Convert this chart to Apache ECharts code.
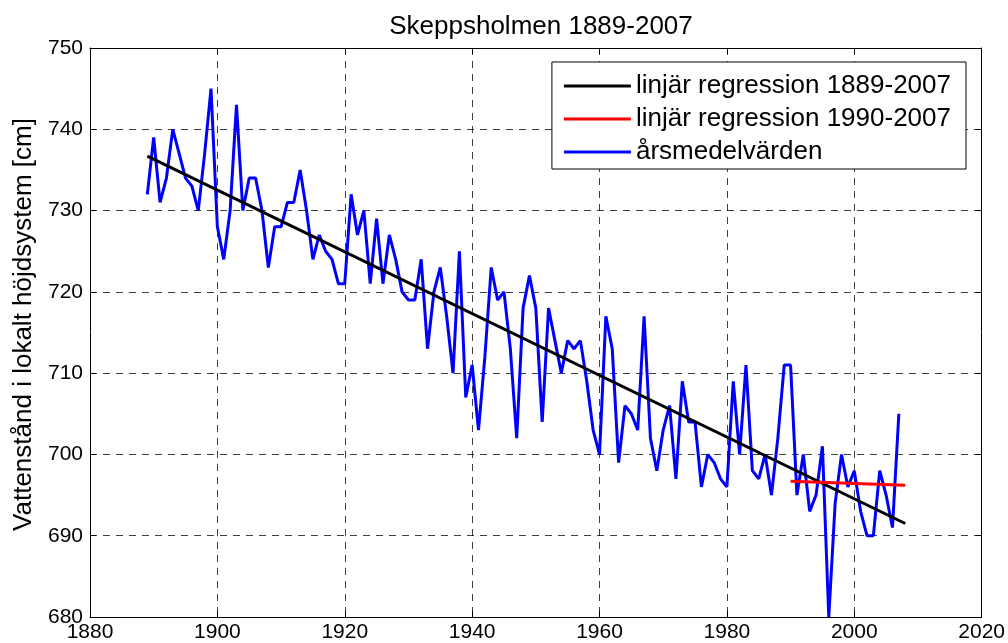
<!DOCTYPE html>
<html>
<head>
<meta charset="utf-8">
<script src="https://cdn.jsdelivr.net/npm/echarts@6/dist/echarts.min.js"></script>
<style>
  html, body { margin: 0; padding: 0; background: #fff; }
  #chart { width: 1008px; height: 643px; }
</style>
</head>
<body>
<div id="chart"></div>
<script>
// årsmedelvärden 1889-2007
const startYear = 1889;
const annualMeans = [
  732, 739, 731, 734, 740, 737, 734, 733, 730, 737,
  745, 728, 724, 730, 743, 730, 734, 734, 730, 723,
  728, 728, 731, 731, 735, 730, 724, 727, 725, 724,
  721, 721, 732, 727, 730, 721, 729, 721, 727, 724,
  720, 719, 719, 724, 713, 720, 723, 717, 710, 725,
  707, 711, 703, 712, 723, 719, 720, 713, 702, 718,
  722, 718, 704, 718, 714, 710, 714, 713, 714, 709,
  703, 700, 717, 713, 699, 706, 705, 703, 717, 702,
  698, 703, 706, 697, 709, 704, 704, 696, 700, 699,
  697, 696, 709, 700, 711, 698, 697, 700, 695, 702,
  711, 711, 695, 700, 693, 695, 701, 680, 694, 700,
  696, 698, 693, 690, 690, 698, 695, 691, 705
];
const regAll = [[1889, 736.7], [2008, 691.5]];
const reg1990 = [[1990, 696.7], [2008, 696.2]];
const xTicks = [1880, 2020, 20];
const yTicks = [680, 750, 10];

const font = 'Liberation Sans, Arial, sans-serif';
const blueData = annualMeans.map((v, i) => [startYear + i, v]);

const chart = echarts.init(document.getElementById('chart'));
const gridLine = { show: true, lineStyle: { color: '#000', type: [7, 6], width: 1, opacity: 0.75 } };
const hiddenAxis = {
  axisLine: { show: true, lineStyle: { color: '#000', width: 1 } },
  axisTick: { show: true, inside: true, length: 6, lineStyle: { color: '#000' } },
  axisLabel: { show: false },
  splitLine: { show: false }
};
chart.setOption({
  animation: false,
  backgroundColor: '#fff',
  title: {
    text: 'Skeppsholmen 1889-2007',
    left: 536, top: 9, textAlign: 'center',
    textStyle: { fontFamily: font, fontSize: 26, fontWeight: 'normal', color: '#000' }
  },
  legend: {
    orient: 'vertical',
    right: 42, top: 62,
    padding: [11, 15, 4, 12],
    itemGap: 7,
    borderColor: '#000', borderWidth: 1, backgroundColor: '#fff',
    icon: 'rect', itemWidth: 67, itemHeight: 3,
    textStyle: { fontFamily: font, fontSize: 26, color: '#000' },
    data: ['linjär regression 1889-2007', 'linjär regression 1990-2007', 'årsmedelvärden']
  },
  grid: { left: 90, right: 25, top: 48, bottom: 26 },
  xAxis: [{
    type: 'value', min: xTicks[0], max: xTicks[1], interval: xTicks[2],
    axisLine: { show: true, onZero: false, lineStyle: { color: '#000', width: 1 } },
    axisTick: { show: true, inside: true, length: 6, lineStyle: { color: '#000' } },
    axisLabel: { fontFamily: font, fontSize: 21, color: '#000', margin: 5, formatter: v => String(v) },
    splitLine: gridLine
  }, Object.assign({ type: 'value', position: 'top', min: xTicks[0], max: xTicks[1], interval: xTicks[2] }, hiddenAxis)],
  yAxis: [{
    type: 'value', min: yTicks[0], max: yTicks[1], interval: yTicks[2],
    name: 'Vattenstånd i lokalt höjdsystem [cm]',
    nameLocation: 'middle', nameGap: 47,
    nameTextStyle: { fontFamily: font, fontSize: 26, color: '#000', padding: [0, 0, 0, 16] },
    axisLine: { show: true, onZero: false, lineStyle: { color: '#000', width: 1 } },
    axisTick: { show: true, inside: true, length: 6, lineStyle: { color: '#000' } },
    axisLabel: { fontFamily: font, fontSize: 21, color: '#000', margin: 7 },
    splitLine: gridLine
  }, Object.assign({ type: 'value', position: 'right', min: yTicks[0], max: yTicks[1], interval: yTicks[2] }, hiddenAxis)],
  series: [
    {
      name: 'linjär regression 1889-2007', type: 'line', data: regAll,
      showSymbol: false, z: 3,
      lineStyle: { color: '#000', width: 3 }, itemStyle: { color: '#000' }
    },
    {
      name: 'linjär regression 1990-2007', type: 'line', data: reg1990,
      showSymbol: false, z: 4,
      lineStyle: { color: '#ff0000', width: 3 }, itemStyle: { color: '#ff0000' }
    },
    {
      name: 'årsmedelvärden', type: 'line', data: blueData,
      showSymbol: false, z: 2,
      lineStyle: { color: '#0000ff', width: 3 }, itemStyle: { color: '#0000ff' }
    }
  ]
});
</script>
</body>
</html>
